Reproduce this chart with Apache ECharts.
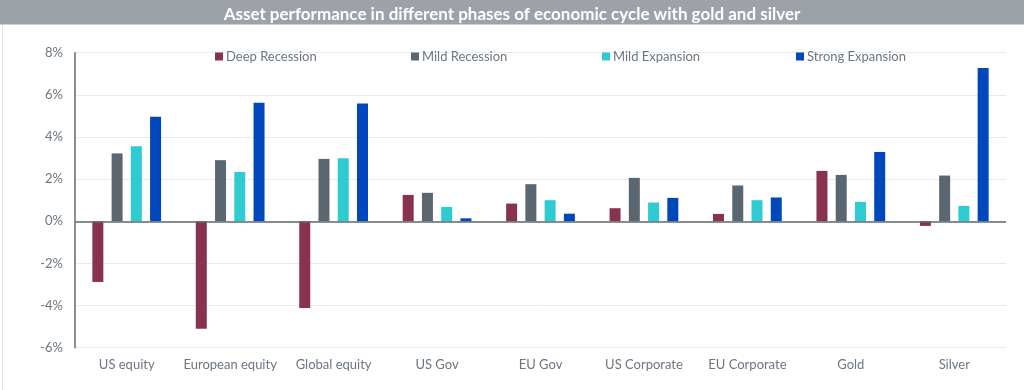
<!DOCTYPE html>
<html><head><meta charset="utf-8">
<script src="https://cdn.jsdelivr.net/npm/echarts@6/dist/echarts.min.js"></script>
<style>html,body{margin:0;padding:0;background:#fff}#c{width:1024px;height:390px}</style>
</head><body><div id="c"></div>
<script>
const titleText = 'Asset performance in different phases of economic cycle with gold and silver';
const categories = ['US equity','European equity','Global equity','US Gov','EU Gov','US Corporate','EU Corporate','Gold','Silver'];
const seriesNames = ['Deep Recession','Mild Recession','Mild Expansion','Strong Expansion'];
const deepRecession   = [-2.88, -5.10, -4.12, 1.25, 0.84, 0.62, 0.35, 2.39, -0.22];
const mildRecession   = [3.22, 2.90, 2.96, 1.35, 1.76, 2.06, 1.70, 2.20, 2.17];
const mildExpansion   = [3.56, 2.34, 2.99, 0.68, 1.00, 0.89, 1.00, 0.92, 0.73];
const strongExpansion = [4.96, 5.62, 5.59, 0.14, 0.36, 1.11, 1.13, 3.29, 7.27];
const yTicks = [-6, -4, -2, 0, 2, 4, 6, 8];

const colors = ['#88324f', '#5b6770', '#2ecbd3', '#0047bb'];
const dataSets = [deepRecession, mildRecession, mildExpansion, strongExpansion];
const legendLefts = [210, 406, 597, 791];
const font = 'Lato, "Noto Sans", sans-serif';

const chart = echarts.init(document.getElementById('c'), null, {renderer: 'canvas'});
chart.setOption({
  animation: false,
  backgroundColor: '#fff',
  color: colors,
  graphic: [
    {type: 'rect', left: 0, top: 0, shape: {width: 1023, height: 389}, style: {fill: 'none', stroke: '#e3e3e3', lineWidth: 1}, z: -1},
    {type: 'rect', left: 0, top: 0, shape: {width: 1024, height: 24}, style: {fill: '#9ca2a7'}, z: 0},
    {type: 'rect', left: 0, top: 24, shape: {width: 1024, height: 1}, style: {fill: '#cfd3d6'}, z: 0}
  ],
  title: {
    text: titleText, left: 'center', top: 1,
    textStyle: {color: '#fff', fontSize: 17, fontWeight: 'bold', fontFamily: font}
  },
  legend: seriesNames.map((n, i) => ({
    data: [n], left: legendLefts[i], top: 45, icon: 'rect', itemWidth: 8, itemHeight: 8, itemGap: 4,
    textStyle: {color: '#6b7680', fontSize: 13, fontFamily: font, padding: [0,0,0,-2]}
  })),
  grid: {left: 75, right: 18, top: 52.7, bottom: 42.3, containLabel: false},
  xAxis: {
    type: 'category', data: categories,
    axisLine: {show: false, onZero: false},
    axisTick: {show: false},
    axisLabel: {color: '#6b7680', fontSize: 13, fontFamily: font, margin: 11, interval: 0}
  },
  yAxis: {
    type: 'value', min: yTicks[0], max: yTicks[yTicks.length - 1], interval: 2,
    axisLine: {show: true, lineStyle: {color: '#5f6a72', width: 1.5}},
    axisTick: {show: false},
    axisLabel: {color: '#6b7680', fontSize: 13, fontFamily: font, margin: 12, formatter: v => v + '%'},
    splitLine: {lineStyle: {color: '#e9e9e9', width: 1}}
  },
  series: dataSets.map((d, i) => ({
    name: seriesNames[i], type: 'bar', data: d,
    barWidth: 11, barGap: '75%', barCategoryGap: '33%',
    itemStyle: {color: colors[i]},
    markLine: i === 0 ? {
      silent: true, symbol: 'none', label: {show: false},
      lineStyle: {color: '#5f6a72', width: 1.5, type: 'solid'},
      data: [{yAxis: 0}]
    } : undefined,
    z: 2
  }))
});
</script></body></html>
